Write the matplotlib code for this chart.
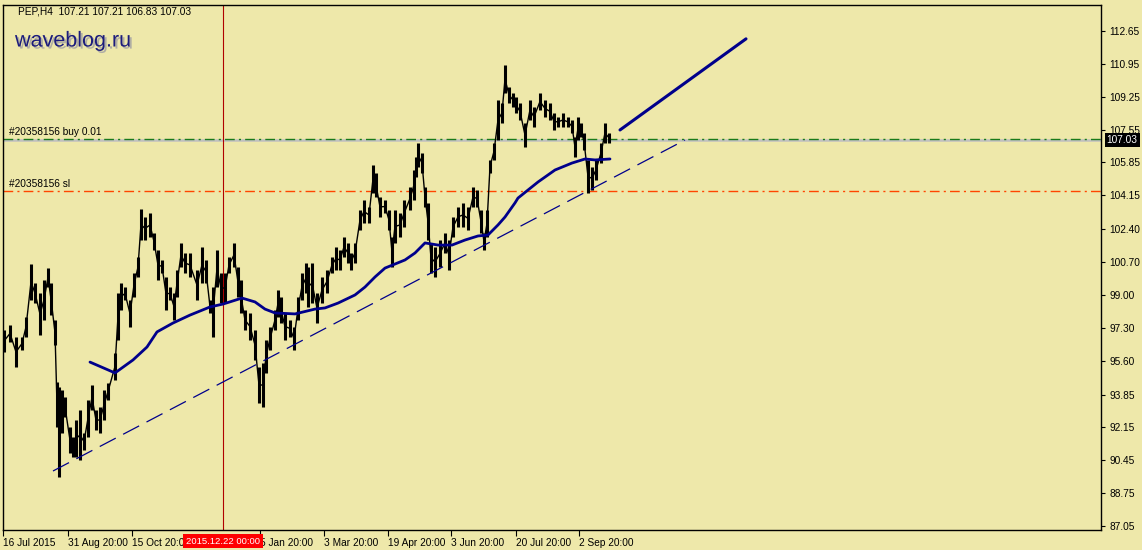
import matplotlib
matplotlib.use("Agg")
import matplotlib.pyplot as plt
import matplotlib.patheffects as pe

# H4 bars of PEP, sampled from the chart (bar number, high, low)
bar_x = [4, 10, 16, 22, 26, 31, 35, 40, 44, 48, 51, 55, 57, 59, 62, 65, 70, 73, 76, 80, 84, 88, 92, 96, 100, 104, 108,
         115, 118, 121, 125, 130, 134, 138, 141, 145, 150, 154, 158, 162, 166, 170, 174, 177, 181, 185, 190, 197, 202,
         206, 210, 213, 217, 221, 225, 229, 234, 238, 241, 245, 250, 255, 259, 263, 266, 270, 275, 278, 281, 285, 290,
         294, 298, 302, 306, 308, 312, 317, 322, 327, 332, 336, 340, 344, 348, 351, 355, 360, 364, 369, 373, 376, 380,
         385, 389, 392, 395, 400, 404, 410, 414, 416, 418, 422, 425, 428, 431, 435, 440, 445, 449, 453, 458, 463, 468,
         473, 477, 481, 484, 487, 490, 494, 498, 502, 505, 509, 513, 516, 520, 525, 530, 534, 540, 545, 550, 554, 558,
         563, 568, 572, 575, 578, 581, 584, 588, 592, 596, 601, 605, 609]
bar_high = [97.19, 97.45, 96.83, 96.83, 97.86, 100.60, 99.62, 99.10, 99.77, 100.40, 99.62, 97.71, 94.50, 94.24, 94.09,
            93.72, 92.17, 91.66, 92.53, 93.05, 91.86, 93.57, 94.34, 93.05, 93.21, 94.09, 94.45,
            96.00, 99.10, 99.62, 99.41, 98.74, 100.14, 100.96, 103.45, 103.03, 103.24, 102.20, 101.33, 100.81, 99.93,
            99.41, 99.10, 100.29, 101.69, 101.17, 101.17, 100.29, 101.48, 100.81, 98.74, 99.41,
            101.33, 100.14, 100.14, 100.96, 101.69, 100.45, 99.77, 98.22, 98.07, 97.19, 95.28, 95.48, 96.67, 97.34,
            98.22, 99.26, 98.89, 98.07, 97.71, 97.34, 98.89, 100.14, 100.65,
            100.45, 100.65, 99.10, 99.93, 100.29, 100.96, 101.48, 101.33, 102.00, 101.69, 101.17, 101.69, 103.39,
            103.91, 103.55, 105.72, 105.31, 104.07, 103.91, 103.39, 102.00, 103.39, 103.24, 103.91, 104.58, 105.46,
            106.13, 106.86, 106.34, 104.58, 103.76, 101.69, 101.48, 101.84, 102.20, 101.84, 103.03, 103.55, 103.76,
            103.55, 104.58, 104.43, 103.39, 102.20, 103.39, 105.98, 106.86, 109.08, 108.93, 110.89, 109.75, 109.44,
            109.24, 108.93, 107.89, 109.08, 108.72, 109.44, 109.08, 108.93, 108.41, 108.20, 108.41, 108.20, 108.05,
            107.17, 108.20, 107.89, 107.38, 105.98, 105.62, 105.98, 106.86, 107.89, 107.38]
bar_low = [96.05, 96.57, 95.28, 96.15, 96.83, 98.74, 98.58, 96.93, 97.71, 99.41, 97.96, 96.41, 92.17, 89.59, 91.86,
           92.69, 90.83, 90.62, 90.62, 90.47, 90.98, 91.66, 93.05, 92.02, 91.86, 92.53, 93.57,
           94.60, 96.67, 98.22, 98.74, 97.34, 98.89, 99.93, 101.84, 101.84, 102.00, 101.33, 99.77, 100.14, 98.22,
           98.74, 97.71, 98.89, 100.45, 100.14, 99.93, 98.74, 99.62, 99.62, 98.07, 96.83,
           99.41, 98.58, 98.58, 100.14, 100.45, 98.89, 98.07, 97.19, 96.67, 95.64, 93.41, 93.21, 94.97, 96.15,
           97.19, 97.86, 97.55, 96.67, 96.83, 96.15, 97.71, 98.74, 99.10,
           98.38, 98.58, 97.55, 98.58, 99.10, 100.14, 100.29, 100.29, 100.96, 100.65, 100.29, 100.65, 102.36,
           102.72, 102.72, 104.27, 104.07, 103.03, 103.24, 102.36, 100.45, 101.69, 102.00, 102.52, 103.39, 103.91,
           105.10, 105.62, 105.31, 103.55, 101.84, 100.14, 99.93, 100.45, 101.17, 100.29, 102.00, 102.52, 102.52,
           102.36, 103.55, 103.55, 102.20, 101.33, 102.00, 105.31, 105.98, 107.01, 107.89, 109.44, 108.93, 108.72,
           108.41, 108.05, 106.65, 108.05, 107.69, 108.56, 108.20, 108.05, 107.53, 107.69, 107.69, 107.69, 107.38,
           106.13, 107.01, 107.17, 106.50, 104.27, 104.43, 104.95, 105.82, 106.86, 106.86]

# moving average (dark blue curve)
ma_x = [90, 115, 133, 147, 157, 173, 190, 210, 223, 242, 255, 265, 275, 295, 315, 325, 338, 355, 365, 375, 385,
        395, 405, 415, 425, 438, 452, 465, 478, 488, 498, 505, 515, 518, 538, 555, 572, 585, 595, 610]
ma_val = [95.53, 94.97, 95.64, 96.31, 97.09, 97.55, 97.96, 98.38, 98.53, 98.84, 98.64, 98.27, 98.07, 98.02, 98.27,
          98.33, 98.58, 99.00, 99.41, 99.93, 100.39, 100.60, 100.81, 101.17, 101.69, 101.58, 101.58, 101.84, 102.05,
          102.10, 102.62, 103.03, 103.76, 104.01, 104.84, 105.46, 105.82, 106.03, 105.98, 106.03]

# trend lines
trend_x = [53, 685]
trend_val = [89.90, 107.01]
proj_x = [620, 746]
proj_val = [107.53, 112.24]

bid_price = 107.03
buy_price = 107.07
sl_price = 104.38
cursor_bar = 223

yticks = [87.05, 88.75, 90.45, 92.15, 93.85, 95.60, 97.30, 99.00, 100.70, 102.40, 104.15, 105.85, 107.55, 109.25,
          110.95, 112.65]
xtick_pos = [3, 68, 132, 260, 324, 388, 451, 516, 579]
xtick_lab = ["16 Jul 2015", "31 Aug 20:00", "15 Oct 20:00", "5 Jan 20:00", "3 Mar 20:00", "19 Apr 20:00",
             "3 Jun 20:00", "20 Jul 20:00", "2 Sep 20:00"]

bg = "#eee8aa"
navy = "#00008b"
plt.rcParams["font.family"] = ["Liberation Sans", "DejaVu Sans"]
plt.rcParams["lines.scale_dashes"] = False

fig = plt.figure(figsize=(11.42, 5.5), dpi=100, facecolor=bg)
ax = fig.add_axes([3 / 1142, 20 / 550, 1098 / 1142, 525 / 550], facecolor=bg)
ax.set_xlim(3, 1101)
ax.set_ylim(86.85, 113.99)

# price bars: high-low strokes plus a thin line through the mid of each range
mids = [(h + l) / 2 for h, l in zip(bar_high, bar_low)]
ax.plot(bar_x, mids, color="black", lw=1.0, zorder=3)
ax.vlines(bar_x, bar_low, bar_high, color="black", lw=2.2, zorder=3)

ax.plot(ma_x, ma_val, color=navy, lw=2, zorder=4, solid_capstyle="round")
ax.plot(trend_x, trend_val, color=navy, lw=0.9, dashes=(13, 6), zorder=4)
ax.plot(proj_x, proj_val, color=navy, lw=2.2, zorder=4, solid_capstyle="round")

ax.axhline(bid_price, color="#c0c0c0", lw=1.8, zorder=2)
ax.axhline(buy_price, color="#1a7a1a", lw=1, dashes=(7, 3, 1.5, 3), zorder=2.2)
ax.axhline(sl_price, color="#ff4500", lw=1, dashes=(7, 3, 1.5, 3), zorder=2.2)
ax.axvline(cursor_bar, color="#b00000", lw=0.8, zorder=2.5)

ax.text(9, buy_price + 0.12, "#20358156 buy 0.01", fontsize=7.3, va="bottom", ha="left")
ax.text(9, sl_price + 0.12, "#20358156 sl", fontsize=7.3, va="bottom", ha="left")

ax.yaxis.tick_right()
ax.set_yticks(yticks)
ax.set_yticklabels([f"{v:.2f}" for v in yticks])
ax.set_xticks(xtick_pos)
ax.set_xticklabels(xtick_lab)
for lab in ax.get_xticklabels():
    lab.set_ha("left")
ax.tick_params(axis="y", direction="out", length=3, width=0.8, labelsize=7.3, pad=3)
ax.tick_params(axis="x", direction="out", length=4, width=0.8, labelsize=7.3, pad=2)
for s in ax.spines.values():
    s.set_color("black")
    s.set_linewidth(1)

# current price tag and cursor date tag
ax.annotate(f"{bid_price:.2f}", xy=(1.0, bid_price), xycoords=("axes fraction", "data"),
            xytext=(4, 0), textcoords="offset points", fontsize=7.3, color="white", va="center", ha="left",
            bbox=dict(boxstyle="square,pad=0.2", fc="black", ec="none"), annotation_clip=False, zorder=10)
ax.annotate("2015.12.22 00:00", xy=(cursor_bar, 0), xycoords=("data", "axes fraction"),
            xytext=(0, -8), textcoords="offset points", fontsize=6.8, color="white", va="center", ha="center",
            bbox=dict(boxstyle="square,pad=0.3", fc="#ff0000", ec="none"), annotation_clip=False, zorder=10)

fig.text(18 / 1142, 1 - 11 / 550, "PEP,H4  107.21 107.21 106.83 107.03", fontsize=7.3, va="center", ha="left")
fig.text(15 / 1142, 1 - 41 / 550, "waveblog.ru", fontsize=15.5, color="#1c1c7c", va="center", ha="left",
         path_effects=[pe.withSimplePatchShadow(offset=(1.5, -1.5), shadow_rgbFace="#8888a0", alpha=0.6)])

fig.savefig("out.png", dpi=100, facecolor=bg)
